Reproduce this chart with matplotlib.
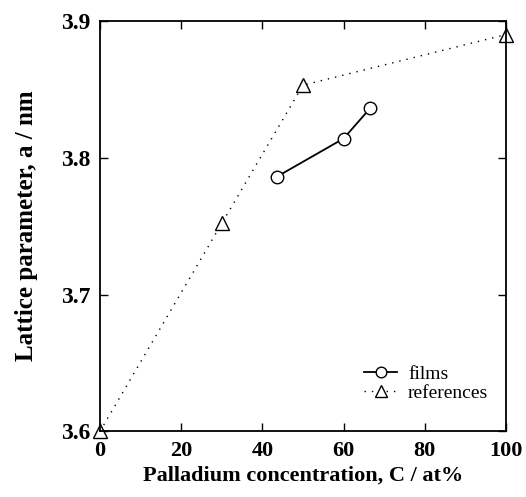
import numpy as np
from matplotlib import pyplot as plt

# films (measured)
films_c = [43.5, 60, 66.5]
films_a = [3.786, 3.814, 3.836]

# literature references
ref_c = [0, 30, 50, 100]
ref_a = [3.600, 3.752, 3.853, 3.890]

x_ticks = [0, 20, 40, 60, 80, 100]
y_ticks = [3.6, 3.7, 3.8, 3.9]

plt.rcParams['font.family'] = ['Liberation Serif', 'DejaVu Serif']

fig = plt.figure(figsize=(5.26, 4.97), dpi=100)
ax = fig.add_axes([0.190, 0.132, 0.772, 0.826])

ax.plot(films_c, films_a, color='black', lw=1.3, marker='o', ms=9,
        mfc='white', mec='black', mew=1.0, label='films', clip_on=False)
ax.plot(ref_c, ref_a, color='black', lw=1.0, linestyle=(0, (1, 4.3)), marker='^', ms=10,
        mfc='white', mec='black', mew=1.0, label='references', clip_on=False)

ax.set_xlim(0, 100)
ax.set_ylim(3.6, 3.9)
ax.set_xticks(x_ticks)
ax.set_yticks(y_ticks)
ax.set_xticklabels([str(v) for v in x_ticks])
ax.set_yticklabels(['%.1f' % v for v in y_ticks])

ax.tick_params(direction='in', length=6, width=1.0, top=True, right=True)
ax.tick_params(axis='x', labelsize=16, pad=7)
ax.tick_params(axis='y', labelsize=17, pad=7)
for lab in ax.get_xticklabels() + ax.get_yticklabels():
    lab.set_fontweight('bold')
for sp in ax.spines.values():
    sp.set_linewidth(1.3)

ax.set_xlabel('Palladium concentration, C / at%', fontsize=16, fontweight='bold', labelpad=3)
ax.set_ylabel('Lattice parameter, a / nm', fontsize=18, fontweight='bold', labelpad=16)

ax.legend(loc='center left', bbox_to_anchor=(0.651, 0.116), frameon=False, fontsize=14,
          borderpad=0, borderaxespad=0, handlelength=1.7, handletextpad=0.55,
          labelspacing=0.05, markerscale=0.85)

fig.savefig('out.png', dpi=100)
